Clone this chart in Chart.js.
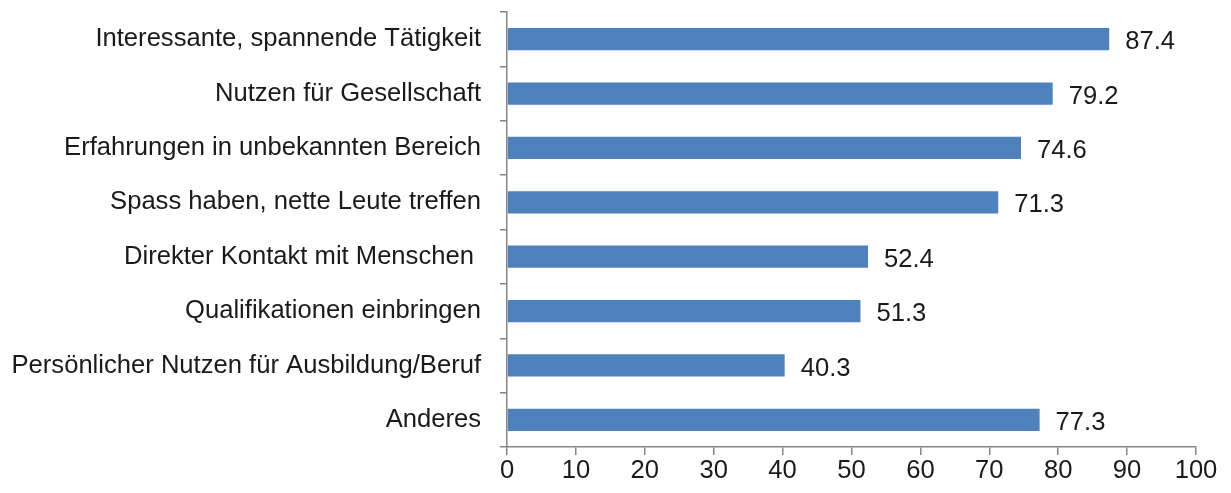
<!DOCTYPE html>
<html>
<head>
<meta charset="utf-8">
<script src="https://cdn.jsdelivr.net/npm/chart.js@4"></script>
<style>
  html, body { margin: 0; padding: 0; background: #fff; }
  #wrap { width: 1231px; height: 493px; }
</style>
</head>
<body>
<div id="wrap"><canvas id="myChart"></canvas></div>
<script>
const categories = [
  "Interessante, spannende Tätigkeit",
  "Nutzen für Gesellschaft",
  "Erfahrungen in unbekannten Bereich",
  "Spass haben, nette Leute treffen",
  "Direkter Kontakt mit Menschen ",
  "Qualifikationen einbringen",
  "Persönlicher Nutzen für Ausbildung/Beruf",
  "Anderes"
];
const values = [87.4, 79.2, 74.6, 71.3, 52.4, 51.3, 40.3, 77.3];
const xTicks = [0, 10, 20, 30, 40, 50, 60, 70, 80, 90, 100];

const fontFamily = "'Liberation Sans', Arial, Helvetica, sans-serif";
const fontSize = 25.6;
const axisColor = "#868686";
const textColor = "#1a1a1a";

const valueLabels = {
  id: "valueLabels",
  afterDatasetsDraw(chart) {
    const ctx = chart.ctx;
    const meta = chart.getDatasetMeta(0);
    ctx.save();
    ctx.font = fontSize + "px " + fontFamily;
    ctx.fillStyle = textColor;
    ctx.textAlign = "left";
    ctx.textBaseline = "middle";
    meta.data.forEach((bar, i) => {
      ctx.fillText(values[i].toFixed(1), bar.x + 16, bar.y + 3);
    });
    ctx.restore();
  }
};

window.onload = function () {
  const ctx = document.getElementById("myChart").getContext("2d");

  new Chart(ctx, {
    type: "bar",
    data: {
      labels: categories,
      datasets: [{
        data: values,
        backgroundColor: "#4F81BD",
        borderWidth: 0,
        categoryPercentage: 1,
        barPercentage: 0.41
      }]
    },
    options: {
      indexAxis: "y",
      responsive: true,
      maintainAspectRatio: false,
      animation: false,
      layout: { padding: { top: 12, right: 35, bottom: 0, left: 0 } },
      plugins: {
        legend: { display: false },
        tooltip: { enabled: false }
      },
      scales: {
        x: {
          min: 0,
          max: 100,
          afterBuildTicks: (scale) => { scale.ticks = xTicks.map(v => ({ value: v })); },
          afterFit: (scale) => {
            scale.height = 46;
            scale.paddingLeft = 0;
            scale.paddingRight = 0;
          },
          border: { color: axisColor, width: 1.5 },
          grid: { drawOnChartArea: false, color: axisColor, lineWidth: 1.5, tickLength: 8 },
          ticks: {
            color: textColor,
            padding: 1,
            maxRotation: 0,
            font: { family: fontFamily, size: fontSize }
          }
        },
        y: {
          afterFit: (scale) => {
            scale.width = 507;
            scale.paddingTop = 0;
            scale.paddingBottom = 0;
          },
          border: { color: axisColor, width: 1.5 },
          grid: { drawOnChartArea: false, color: axisColor, lineWidth: 1.5, tickLength: 7, offset: true },
          ticks: {
            color: textColor,
            padding: 19,
            autoSkip: false,
            font: { family: fontFamily, size: fontSize }
          }
        }
      }
    },
    plugins: [valueLabels]
  });
};
</script>
</body>
</html>
